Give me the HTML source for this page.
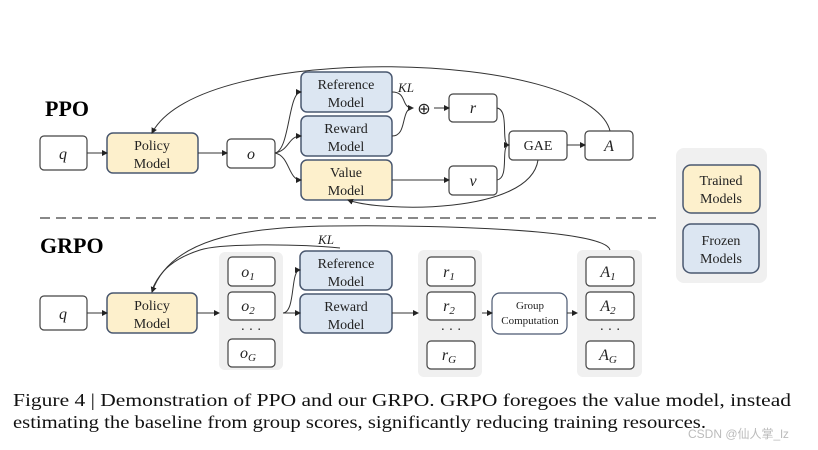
<!DOCTYPE html>
<html><head><meta charset="utf-8"><style>
html,body{margin:0;padding:0;background:#fff;}
svg{display:block;}
.s{font-family:"Liberation Serif",serif;}
</style></head><body>
<svg width="818" height="450" viewBox="0 0 818 450" xmlns="http://www.w3.org/2000/svg">
<defs>
<marker id="ar" markerWidth="6" markerHeight="6" refX="5" refY="3" orient="auto" markerUnits="userSpaceOnUse"><path d="M0,0 L6,3 L0,6 z" fill="#222"/></marker>
</defs>
<g class="s" font-size="14" fill="#222" text-anchor="middle">
<!-- PPO -->
<text x="45" y="116" font-size="22" font-weight="bold" text-anchor="start" fill="#000">PPO</text>
<rect x="40" y="136" width="47" height="34" rx="4" fill="#fff" stroke="#444" stroke-width="1.2"/>
<text x="63" y="159" font-style="italic" font-size="16">q</text>
<rect x="107" y="133" width="91" height="40" rx="6" fill="#fdf0cc" stroke="#4a5870" stroke-width="1.5"/>
<text x="152" y="150">Policy</text><text x="152" y="168">Model</text>
<rect x="227" y="139" width="48" height="29" rx="4" fill="#fff" stroke="#444" stroke-width="1.2"/>
<text x="251" y="159" font-style="italic" font-size="16">o</text>
<rect x="301" y="72" width="91" height="40" rx="6" fill="#dce6f2" stroke="#4a5870" stroke-width="1.5"/>
<text x="346" y="89">Reference</text><text x="346" y="107">Model</text>
<rect x="301" y="116" width="91" height="40" rx="6" fill="#dce6f2" stroke="#4a5870" stroke-width="1.5"/>
<text x="346" y="133">Reward</text><text x="346" y="151">Model</text>
<rect x="301" y="160" width="91" height="40" rx="6" fill="#fdf0cc" stroke="#4a5870" stroke-width="1.5"/>
<text x="346" y="177">Value</text><text x="346" y="195">Model</text>
<text x="406" y="92" font-style="italic" font-size="13">KL</text>
<text x="424" y="114" font-size="16">⊕</text>
<rect x="449" y="94" width="48" height="28" rx="4" fill="#fff" stroke="#444" stroke-width="1.2"/>
<text x="473" y="113" font-style="italic" font-size="16">r</text>
<rect x="449" y="166" width="48" height="29" rx="4" fill="#fff" stroke="#444" stroke-width="1.2"/>
<text x="473" y="186" font-style="italic" font-size="16">v</text>
<rect x="509" y="131" width="58" height="29" rx="4" fill="#fff" stroke="#444" stroke-width="1.2"/>
<text x="538" y="150">GAE</text>
<rect x="585" y="131" width="48" height="29" rx="4" fill="#fff" stroke="#444" stroke-width="1.2"/>
<text x="609" y="151" font-style="italic" font-size="16">A</text>
<g fill="none" stroke="#333" stroke-width="1">
<path d="M87,153 L107,153" marker-end="url(#ar)"/>
<path d="M198,153 L227,153" marker-end="url(#ar)"/>
<path d="M275,153 C290,150 288,92 301,92" marker-end="url(#ar)"/>
<path d="M275,153 C290,150 288,136 301,136" marker-end="url(#ar)"/>
<path d="M275,153 C290,156 288,180 301,180" marker-end="url(#ar)"/>
<path d="M392,92 C408,92 400,108 413,108" marker-end="url(#ar)"/>
<path d="M392,136 C408,136 400,108 413,108"/>
<path d="M434,108 L449,108" marker-end="url(#ar)"/>
<path d="M392,180 L449,180" marker-end="url(#ar)"/>
<path d="M497,108 C510,110 500,145 509,145" marker-end="url(#ar)"/>
<path d="M497,180 C510,178 500,145 509,145"/>
<path d="M567,145 L585,145" marker-end="url(#ar)"/>
<path d="M610,131 C590,50 200,40 152,133" marker-end="url(#ar)"/>
<path d="M538,160 C530,215 380,212 348,200" marker-end="url(#ar)"/>
</g>
<line x1="40" y1="218" x2="656" y2="218" stroke="#888" stroke-width="2" stroke-dasharray="10,6"/>
<!-- legend -->
<rect x="676" y="148" width="91" height="135" rx="8" fill="#f0f0f0"/>
<rect x="683" y="165" width="77" height="48" rx="8" fill="#fdf0cc" stroke="#4a5870" stroke-width="1.5"/>
<text x="721" y="185">Trained</text><text x="721" y="203">Models</text>
<rect x="683" y="224" width="76" height="49" rx="8" fill="#dce6f2" stroke="#4a5870" stroke-width="1.5"/>
<text x="721" y="245">Frozen</text><text x="721" y="263">Models</text>
<!-- GRPO -->
<text x="40" y="253" font-size="22" font-weight="bold" text-anchor="start" fill="#000">GRPO</text>
<rect x="40" y="296" width="47" height="34" rx="4" fill="#fff" stroke="#444" stroke-width="1.2"/>
<text x="63" y="319" font-style="italic" font-size="16">q</text>
<rect x="107" y="293" width="90" height="40" rx="6" fill="#fdf0cc" stroke="#4a5870" stroke-width="1.5"/>
<text x="152" y="310">Policy</text><text x="152" y="328">Model</text>
<rect x="219" y="252" width="64" height="118" rx="6" fill="#f0f0f0"/>
<rect x="228" y="257" width="47" height="29" rx="4" fill="#fff" stroke="#444" stroke-width="1.2"/>
<text x="248" y="277" font-style="italic" font-size="16">o<tspan font-size="11" dy="3">1</tspan></text>
<rect x="228" y="292" width="47" height="28" rx="4" fill="#fff" stroke="#444" stroke-width="1.2"/>
<text x="248" y="311" font-style="italic" font-size="16">o<tspan font-size="11" dy="3">2</tspan></text>
<text x="251" y="334" font-size="14">· · ·</text>
<rect x="228" y="339" width="47" height="28" rx="4" fill="#fff" stroke="#444" stroke-width="1.2"/>
<text x="248" y="358" font-style="italic" font-size="16">o<tspan font-size="11" dy="3">G</tspan></text>
<rect x="300" y="251" width="92" height="39" rx="6" fill="#dce6f2" stroke="#4a5870" stroke-width="1.5"/>
<text x="346" y="268">Reference</text><text x="346" y="286">Model</text>
<rect x="300" y="294" width="92" height="39" rx="6" fill="#dce6f2" stroke="#4a5870" stroke-width="1.5"/>
<text x="346" y="311">Reward</text><text x="346" y="329">Model</text>
<text x="326" y="244" font-style="italic" font-size="13">KL</text>
<rect x="418" y="250" width="64" height="127" rx="6" fill="#f0f0f0"/>
<rect x="427" y="257" width="48" height="29" rx="4" fill="#fff" stroke="#444" stroke-width="1.2"/>
<text x="449" y="277" font-style="italic" font-size="16">r<tspan font-size="11" dy="3">1</tspan></text>
<rect x="427" y="292" width="48" height="28" rx="4" fill="#fff" stroke="#444" stroke-width="1.2"/>
<text x="449" y="311" font-style="italic" font-size="16">r<tspan font-size="11" dy="3">2</tspan></text>
<text x="451" y="334" font-size="14">· · ·</text>
<rect x="427" y="341" width="48" height="28" rx="4" fill="#fff" stroke="#444" stroke-width="1.2"/>
<text x="449" y="360" font-style="italic" font-size="16">r<tspan font-size="11" dy="3">G</tspan></text>
<rect x="492" y="293" width="75" height="41" rx="8" fill="#fff" stroke="#4a5870" stroke-width="1.2"/>
<text x="530" y="309" font-size="11">Group</text><text x="530" y="324" font-size="11">Computation</text>
<rect x="577" y="250" width="65" height="127" rx="6" fill="#f0f0f0"/>
<rect x="586" y="257" width="48" height="29" rx="4" fill="#fff" stroke="#444" stroke-width="1.2"/>
<text x="608" y="277" font-style="italic" font-size="16">A<tspan font-size="11" dy="3">1</tspan></text>
<rect x="586" y="292" width="48" height="28" rx="4" fill="#fff" stroke="#444" stroke-width="1.2"/>
<text x="608" y="311" font-style="italic" font-size="16">A<tspan font-size="11" dy="3">2</tspan></text>
<text x="610" y="334" font-size="14">· · ·</text>
<rect x="586" y="341" width="48" height="28" rx="4" fill="#fff" stroke="#444" stroke-width="1.2"/>
<text x="608" y="360" font-style="italic" font-size="16">A<tspan font-size="11" dy="3">G</tspan></text>
<g fill="none" stroke="#333" stroke-width="1">
<path d="M87,313 L107,313" marker-end="url(#ar)"/>
<path d="M197,313 L219,313" marker-end="url(#ar)"/>
<path d="M283,313 C296,312 290,270 300,270" marker-end="url(#ar)"/>
<path d="M283,313 L300,313" marker-end="url(#ar)"/>
<path d="M392,313 L418,313" marker-end="url(#ar)"/>
<path d="M482,313 L492,313" marker-end="url(#ar)"/>
<path d="M567,313 L577,313" marker-end="url(#ar)"/>
<path d="M610,250 C605,228 420,225 330,226 C240,227 170,240 152,292" marker-end="url(#ar)"/>
<path d="M340,248 C300,244 220,243 200,250 C175,258 160,270 152,290"/>
</g>
<!-- caption -->
<text x="13" y="406" font-size="18" text-anchor="start" fill="#111" textLength="778" lengthAdjust="spacingAndGlyphs">Figure 4 | Demonstration of PPO and our GRPO. GRPO foregoes the value model, instead</text>
<text x="13" y="428" font-size="18" text-anchor="start" fill="#111" textLength="693" lengthAdjust="spacingAndGlyphs">estimating the baseline from group scores, significantly reducing training resources.</text>
<text x="688" y="438" font-size="12" text-anchor="start" fill="#bbb" style="font-family:'Liberation Sans','Noto Sans CJK SC',sans-serif">CSDN @仙人掌_lz</text>
</g>
</svg>
</body></html>
